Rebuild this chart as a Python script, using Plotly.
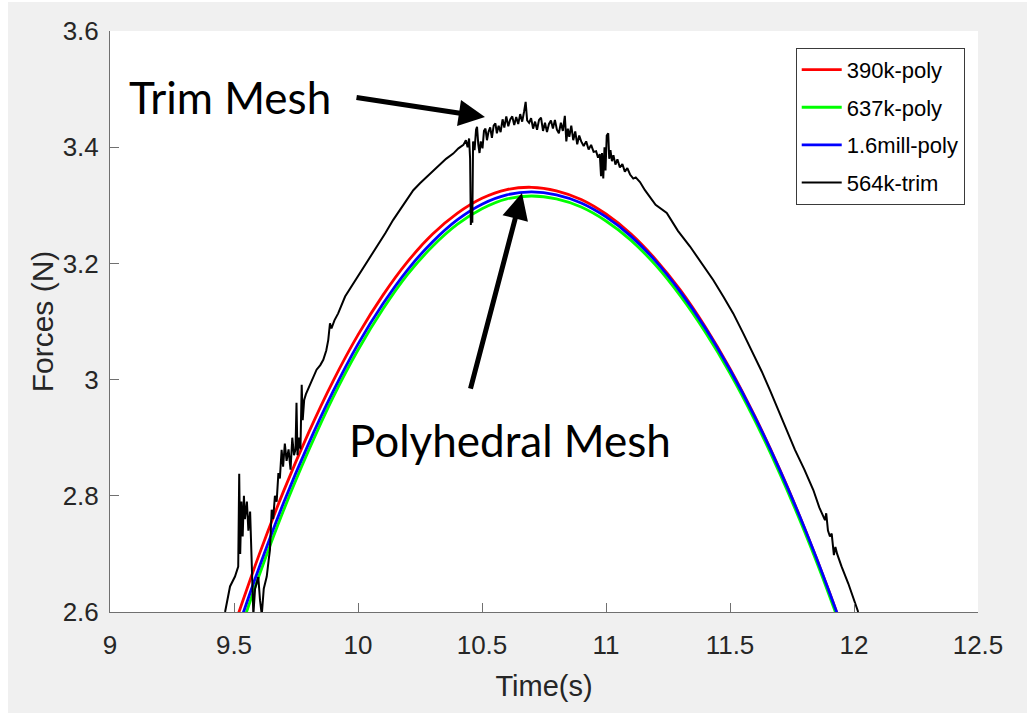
import plotly.graph_objects as go

# ---- data ----
poly_t = [9.5, 9.6, 9.7, 9.8, 9.9, 10.0, 10.1, 10.2, 10.3, 10.4, 10.5, 10.6, 10.7,
          10.8, 10.9, 11.0, 11.1, 11.2, 11.3, 11.4, 11.5, 11.6, 11.7, 11.8, 11.9, 12.0]
red_390k = [2.575, 2.697, 2.808, 2.908, 2.998, 3.077, 3.145, 3.203, 3.250, 3.286, 3.312, 3.327, 3.331,
            3.325, 3.310, 3.285, 3.251, 3.207, 3.154, 3.091, 3.019, 2.937, 2.846, 2.745, 2.635, 2.515]
green_637k = [2.536, 2.661, 2.775, 2.877, 2.970, 3.051, 3.121, 3.181, 3.229, 3.267, 3.294, 3.311, 3.316,
              3.311, 3.297, 3.273, 3.240, 3.197, 3.144, 3.082, 3.011, 2.930, 2.839, 2.739, 2.629, 2.509]
blue_16m = [2.552, 2.675, 2.788, 2.889, 2.980, 3.061, 3.130, 3.189, 3.237, 3.275, 3.302, 3.318, 3.323,
            3.318, 3.304, 3.280, 3.247, 3.204, 3.151, 3.089, 3.017, 2.936, 2.845, 2.745, 2.635, 2.515]

trim_t = [9.464, 9.484, 9.504, 9.517, 9.521, 9.525, 9.530, 9.535, 9.540, 9.544, 9.552, 9.558, 9.565,
          9.572, 9.578, 9.585, 9.592, 9.598, 9.605, 9.612, 9.620, 9.632, 9.640, 9.645, 9.652, 9.658,
          9.665, 9.672, 9.679, 9.685, 9.692, 9.698, 9.705, 9.712, 9.720, 9.728, 9.735, 9.742, 9.748,
          9.752, 9.756, 9.762, 9.768, 9.773, 9.777, 9.783, 9.790, 9.800, 9.815, 9.833, 9.848, 9.860,
          9.872, 9.880, 9.887, 9.893, 9.905, 9.920, 9.948, 10.008, 10.040, 10.075, 10.110, 10.142,
          10.180, 10.223, 10.250, 10.277, 10.300, 10.331, 10.355, 10.384, 10.405, 10.425, 10.435,
          10.442, 10.448, 10.452, 10.455, 10.458, 10.461, 10.464, 10.470, 10.476, 10.480, 10.485,
          10.490, 10.495, 10.502, 10.508, 10.514, 10.520, 10.526, 10.533, 10.540, 10.547, 10.554,
          10.560, 10.567, 10.575, 10.583, 10.590, 10.598, 10.606, 10.614, 10.622, 10.630, 10.638,
          10.646, 10.654, 10.662, 10.670, 10.676, 10.682, 10.690, 10.698, 10.706, 10.714, 10.722,
          10.730, 10.738, 10.746, 10.754, 10.762, 10.770, 10.778, 10.786, 10.794, 10.802, 10.810,
          10.818, 10.826, 10.834, 10.840, 10.846, 10.852, 10.860, 10.868, 10.876, 10.884, 10.892,
          10.900, 10.910, 10.920, 10.930, 10.940, 10.950, 10.960, 10.968, 10.975, 10.980, 10.984,
          10.989, 10.994, 10.998, 11.003, 11.009, 11.013, 11.018, 11.024, 11.030, 11.038, 11.046,
          11.056, 11.066, 11.076, 11.086, 11.097, 11.110, 11.120, 11.137, 11.157, 11.200, 11.245,
          11.290, 11.339, 11.385, 11.433, 11.473, 11.513, 11.553, 11.594, 11.628, 11.661, 11.695,
          11.728, 11.762, 11.800, 11.836, 11.860, 11.876, 11.883, 11.888, 11.895, 11.903, 11.910,
          11.919, 11.925, 11.932, 11.950, 11.977, 12.017]
trim_564k = [2.600, 2.644, 2.661, 2.678, 2.838, 2.700, 2.790, 2.730, 2.800, 2.760, 2.790, 2.740, 2.773,
             2.680, 2.595, 2.640, 2.650, 2.660, 2.620, 2.595, 2.640, 2.661, 2.690, 2.707, 2.776, 2.760,
             2.800, 2.790, 2.839, 2.830, 2.879, 2.850, 2.890, 2.860, 2.880, 2.845, 2.900, 2.870, 2.880,
             2.960, 2.870, 2.900, 2.880, 2.991, 2.930, 2.965, 2.975, 2.985, 3.000, 3.017, 3.025, 3.034,
             3.050, 3.068, 3.097, 3.088, 3.102, 3.114, 3.143, 3.183, 3.205, 3.229, 3.252, 3.275,
             3.300, 3.326, 3.338, 3.349, 3.358, 3.372, 3.380, 3.389, 3.398, 3.404, 3.412,
             3.400, 3.415, 3.380, 3.266, 3.300, 3.270, 3.410, 3.395, 3.430, 3.435, 3.405,
             3.390, 3.410, 3.398, 3.428, 3.432, 3.412, 3.426, 3.434, 3.416, 3.437, 3.441,
             3.424, 3.437, 3.426, 3.448, 3.434, 3.453, 3.436, 3.448, 3.453, 3.438, 3.452,
             3.440, 3.457, 3.444, 3.462, 3.478, 3.446, 3.442, 3.450, 3.432, 3.444, 3.430,
             3.447, 3.451, 3.428, 3.442, 3.426, 3.440, 3.446, 3.432, 3.447, 3.430, 3.424,
             3.442, 3.428, 3.454, 3.410, 3.432, 3.418, 3.437, 3.412, 3.427, 3.405, 3.420,
             3.410, 3.402, 3.410, 3.396, 3.404, 3.392, 3.393, 3.382, 3.388, 3.350, 3.390,
             3.346, 3.400, 3.360, 3.420, 3.424, 3.380, 3.395, 3.376, 3.386, 3.370, 3.379,
             3.365, 3.371, 3.358, 3.364, 3.353, 3.346, 3.348, 3.340, 3.326, 3.301, 3.287,
             3.256, 3.229, 3.201, 3.171, 3.143, 3.114, 3.080, 3.045, 3.014, 2.982, 2.948,
             2.913, 2.879, 2.845, 2.810, 2.780, 2.764, 2.758, 2.770, 2.740, 2.730, 2.735,
             2.698, 2.712, 2.700, 2.678, 2.649, 2.600]

x_ticks = [9, 9.5, 10, 10.5, 11, 11.5, 12, 12.5]
x_tick_labels = ["9", "9.5", "10", "10.5", "11", "11.5", "12", "12.5"]
y_ticks = [2.6, 2.8, 3.0, 3.2, 3.4, 3.6]
y_tick_labels = ["2.6", "2.8", "3", "3.2", "3.4", "3.6"]

FONT = "Liberation Sans, Arial, sans-serif"
AXC = "#707070"
TXT = "#262626"

fig = go.Figure()
fig.add_trace(go.Scatter(x=poly_t, y=red_390k, mode="lines", name="390k-poly",
                         legendgroup="a", line=dict(color="#ff0000", width=2.8, shape="spline")))
fig.add_trace(go.Scatter(x=poly_t, y=green_637k, mode="lines", name="637k-poly",
                         legendgroup="b", line=dict(color="#00ff00", width=2.8, shape="spline")))
fig.add_trace(go.Scatter(x=poly_t, y=blue_16m, mode="lines", name="1.6mill-poly",
                         legendgroup="c", line=dict(color="#0000ff", width=2.8, shape="spline")))
fig.add_trace(go.Scatter(x=trim_t, y=trim_564k, mode="lines", name="564k-trim",
                         legendgroup="d", line=dict(color="#000000", width=2)))

# arrows and labels
fig.add_annotation(x=10.512, y=3.452, ax=9.988, ay=3.486, xref="x", yref="y",
                   axref="x", ayref="y", text="", showarrow=True, arrowhead=2,
                   arrowsize=1.05, arrowwidth=5, arrowcolor="black", standoff=0)
fig.add_annotation(x=10.661, y=3.321, ax=10.452, ay=2.982, xref="x", yref="y",
                   axref="x", ayref="y", text="", showarrow=True, arrowhead=2,
                   arrowsize=1.05, arrowwidth=5, arrowcolor="black", standoff=0)
fig.add_annotation(x=9.0685, y=3.486, xref="x", yref="y", text="Trim Mesh", showarrow=False,
                   xanchor="left", yanchor="middle",
                   font=dict(family="Lato, Carlito, sans-serif", size=44, color="black"))
fig.add_annotation(x=9.956, y=2.896, xref="x", yref="y", text="Polyhedral Mesh", showarrow=False,
                   xanchor="left", yanchor="middle",
                   font=dict(family="Lato, Carlito, sans-serif", size=44, color="black"))

# white outer strips (screenshot border)
fig.add_shape(type="rect", xref="paper", yref="paper", x0=-0.1267, x1=-0.1175,
              y0=-0.1738, y1=1.0534, fillcolor="white", line_width=0, layer="below")
fig.add_shape(type="rect", xref="paper", yref="paper", x0=-0.1267, x1=1.0565,
              y0=1.0499, y1=1.0534, fillcolor="white", line_width=0, layer="below")

fig.update_layout(
    width=1027, height=713,
    margin=dict(l=110, r=49, t=31, b=101),
    paper_bgcolor="#f0f0f0", plot_bgcolor="white",
    font=dict(family=FONT, color=TXT),
    showlegend=True,
    legend=dict(x=0.790, y=0.971, xanchor="left", yanchor="top",
                bgcolor="white", bordercolor="#3a3a3a", borderwidth=1,
                font=dict(family=FONT, size=22, color="black"),
                tracegroupgap=6, itemwidth=40),
)
fig.update_xaxes(range=[9, 12.5], tickvals=x_ticks, ticktext=x_tick_labels,
                 showgrid=False, zeroline=False, showline=True, linecolor=AXC, linewidth=1,
                 ticks="inside", ticklen=9, tickcolor=AXC, tickwidth=1,
                 tickfont=dict(family=FONT, size=26, color=TXT), ticklabelstandoff=10,
                 title=dict(text="Time(s)", font=dict(family=FONT, size=29, color=TXT), standoff=16))
fig.update_yaxes(range=[2.6, 3.6], tickvals=y_ticks, ticktext=y_tick_labels,
                 showgrid=False, zeroline=False, showline=True, linecolor=AXC, linewidth=1,
                 ticks="inside", ticklen=9, tickcolor=AXC, tickwidth=1,
                 tickfont=dict(family=FONT, size=26, color=TXT), ticklabelstandoff=5,
                 title=dict(text="Forces (N)", font=dict(family=FONT, size=30, color=TXT), standoff=0))

fig.write_html("out.html")
